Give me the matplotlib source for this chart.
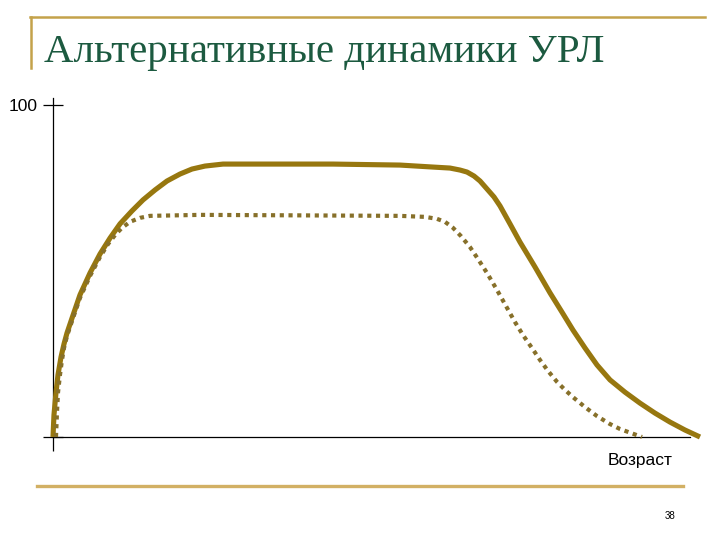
import matplotlib
matplotlib.use("Agg")
import matplotlib.pyplot as plt
from matplotlib.lines import Line2D

# Data (age 0-100, level 0-100)
solid_x = [0, 0.15, 0.46, 0.77, 1.24, 1.70, 2.16, 2.94, 4.17, 5.72, 7.26, 8.81, 10.36, 12.21,
           13.91, 15.77, 17.62, 19.63, 21.48, 23.49, 26.28, 43.28, 53.63, 58.73, 61.36, 62.91,
           63.99, 65.07, 66.0, 67.08, 68.16, 69.09, 70.63, 72.18, 74.5, 76.82, 78.67, 80.37,
           82.23, 84.08, 86.09, 88.41, 90.73, 93.04, 95.36, 97.68, 100]
solid_y = [0, 6.6, 13.3, 18.7, 24.1, 28.0, 31.3, 35.8, 42.8, 49.4, 55.1, 59.9, 64.2, 68.1,
           71.4, 74.4, 77.1, 79.2, 80.7, 81.6, 82.2, 82.2, 81.9, 81.3, 81.0, 80.4,
           79.8, 78.6, 77.1, 74.7, 72.3, 69.6, 64.2, 58.7, 51.2, 43.4, 37.6, 32.2,
           26.8, 21.7, 17.2, 13.5, 10.2, 7.2, 4.5, 2.1, 0]

dotted_x = [0.46, 0.62, 0.77, 1.08, 1.39, 1.70, 2.16, 3.09, 4.17, 5.72, 7.26, 8.50, 9.58,
            10.66, 11.90, 13.45, 14.99, 22.72, 53.63, 57.5, 59.35, 60.59, 61.82, 63.06,
            64.45, 65.69, 67.08, 68.62, 70.17, 71.41, 72.64, 74.03, 75.27, 76.51, 77.9,
            79.13, 80.37, 82.23, 84.08, 86.09, 87.64, 89.34, 91.04]
dotted_y = [0, 7.5, 13.3, 18.7, 23.2, 26.8, 30.4, 35.8, 41.9, 48.5, 54.2, 58.1, 60.8,
            63.0, 64.8, 66.0, 66.6, 66.9, 66.6, 66.3, 65.7, 64.8, 63.0, 60.5,
            57.2, 53.6, 49.4, 44.3, 38.9, 34.6, 30.7, 26.8, 23.2, 19.9, 16.6,
            14.2, 12.0, 9.0, 6.3, 3.9, 2.4, 1.2, 0]

title = "Альтернативные динамики УРЛ"
xlabel = "Возраст"
ytick_label = "100"
page = "38"

W, H = 720, 540
fig = plt.figure(figsize=(7.2, 5.4), dpi=100)
fig.patch.set_facecolor("white")

def fx(px):
    return px / W

def fy(py):
    return 1 - py / H

# decorative slide lines
gold = "#c4a24a"
fig.add_artist(Line2D([fx(30), fx(705)], [fy(17), fy(17)], color=gold, lw=1.8))
fig.add_artist(Line2D([fx(31), fx(31)], [fy(17), fy(68)], color=gold, lw=1.8))
fig.add_artist(Line2D([fx(37), fx(683)], [fy(486), fy(486)], color="#d2b064", lw=2.4))

fig.text(fx(44), fy(62), title, fontsize=29.5, family="Liberation Serif",
         color="#1c5a40", ha="left", va="baseline")

# axes: y from 0 (px 437) to 102.1 (px 98); x from 0 (px 53) to 100 (px 700)
ax = fig.add_axes([fx(53), fy(437), fx(700) - fx(53), fy(98) - fy(437)])
ax.set_xlim(0, 100)
ax.set_ylim(0, 102.1)
for s in ["top", "right"]:
    ax.spines[s].set_visible(False)
ax.spines["left"].set_color("black")
ax.spines["left"].set_linewidth(0.9)
ax.spines["bottom"].set_color("black")
ax.spines["bottom"].set_linewidth(0.9)
ax.spines["bottom"].set_bounds(0, 98.5)

ax.set_yticks([0, 100])
ax.set_yticklabels(["", ytick_label], family="Liberation Sans", fontsize=12.5)
ax.tick_params(axis="y", direction="inout", length=14, width=0.9, pad=4)
ax.set_xticks([0])
ax.set_xticklabels([""])
ax.tick_params(axis="x", direction="out", length=10, width=0.9)

ax.plot(solid_x, solid_y, color="#97770f", lw=3.7, solid_capstyle="butt",
        solid_joinstyle="round", clip_on=False, zorder=3)
ax.plot(dotted_x, dotted_y, color="#87702a", lw=3.0, linestyle=(0, (1.0, 1.1)),
        dash_capstyle="butt", clip_on=False, zorder=4)

fig.text(fx(640), fy(460), xlabel, family="Liberation Sans", fontsize=12.5,
         ha="center", va="center", color="black")
fig.text(fx(670), fy(516), page, family="Liberation Sans", fontsize=7,
         ha="center", va="center", color="black")

fig.savefig("out.png", dpi=100)
